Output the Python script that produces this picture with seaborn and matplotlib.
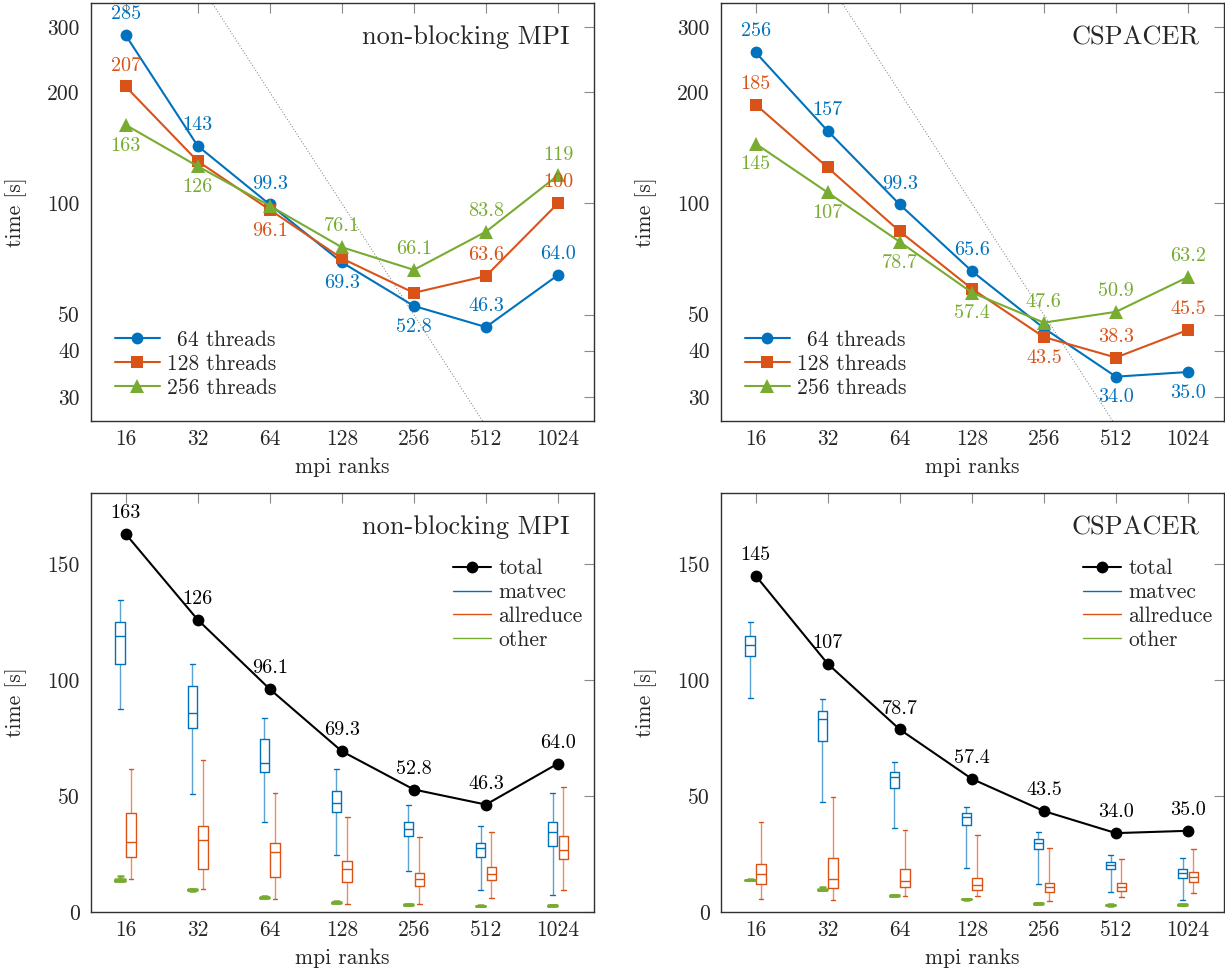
import numpy as np
import pandas as pd
import matplotlib
matplotlib.use("Agg")
import matplotlib.pyplot as plt
import seaborn as sns
from matplotlib.lines import Line2D
from matplotlib.ticker import FixedLocator, FixedFormatter, NullLocator

# ---------------------------------------------------------------- data
ranks = ["16", "32", "64", "128", "256", "512", "1024"]
thread_labels = ["64 threads", "128 threads", "256 threads"]

# top row: runtime per thread count (log axis)
nb_64 = [285, 143, 99.3, 69.3, 52.8, 46.3, 64.0]
nb_128 = [207, 130, 96.1, 71.0, 57.3, 63.6, 100]
nb_256 = [163, 126, 98.5, 76.1, 66.1, 83.8, 119]

cs_64 = [256, 157, 99.3, 65.6, 46.0, 34.0, 35.0]
cs_128 = [185, 125, 84.0, 58.8, 43.5, 38.3, 45.5]
cs_256 = [145, 107, 78.7, 57.4, 47.6, 50.9, 63.2]

# ideal scaling reference (dotted)
ideal = [800, 400, 200, 100, 50, 25, 12.5]

# bottom row: best total time
nb_total = [163, 126, 96.1, 69.3, 52.8, 46.3, 64.0]
cs_total = [145, 107, 78.7, 57.4, 43.5, 34.0, 35.0]

# box summaries per rank: [min, q1, median, q3, max]
nb_matvec = [[87.5, 106.7, 119.0, 125.1, 134.5], [51.0, 79.2, 85.6, 97.4, 106.9],
             [38.9, 60.2, 64.4, 74.7, 83.6], [24.4, 43.2, 47.1, 52.3, 61.8],
             [17.7, 32.9, 35.8, 38.7, 46.0], [9.5, 23.8, 27.4, 29.6, 37.2],
             [7.3, 28.4, 34.6, 38.7, 51.5]]
nb_allreduce = [[14.2, 23.6, 30.0, 42.5, 61.5], [9.8, 18.5, 30.9, 37.2, 65.5],
                [5.6, 15.1, 25.7, 29.6, 51.4], [3.3, 12.8, 18.4, 21.8, 40.8],
                [3.6, 11.2, 14.2, 16.8, 32.2], [6.2, 13.8, 16.2, 19.5, 34.3],
                [9.3, 22.7, 26.7, 32.9, 54.0]]
nb_other = [[13.2, 13.5, 13.8, 14.1, 15.6], [9.2, 9.4, 9.6, 9.8, 10.0],
            [5.9, 6.1, 6.3, 6.5, 6.7], [3.8, 4.0, 4.2, 4.4, 4.6],
            [2.9, 3.0, 3.2, 3.3, 3.5], [2.4, 2.6, 2.7, 2.8, 3.0],
            [2.6, 2.8, 2.9, 3.0, 3.2]]

cs_matvec = [[92.1, 110.3, 114.9, 118.8, 124.9], [47.5, 73.5, 83.0, 86.6, 91.9],
             [36.0, 53.4, 58.3, 60.5, 64.8], [18.8, 37.5, 40.8, 42.5, 45.3],
             [11.9, 27.2, 29.6, 31.3, 34.6], [8.8, 18.5, 20.3, 21.7, 24.6],
             [5.2, 14.5, 16.6, 18.5, 23.4]]
cs_allreduce = [[5.5, 12.1, 16.2, 20.8, 38.9], [5.0, 10.5, 14.1, 23.4, 49.7],
                [6.9, 10.9, 13.4, 18.4, 35.5], [6.9, 9.5, 11.6, 14.5, 33.2],
                [4.9, 8.5, 10.6, 12.6, 27.7], [6.3, 9.2, 10.9, 12.6, 22.7],
                [8.1, 13.1, 15.2, 17.4, 27.0]]
cs_other = [[13.6, 13.8, 13.9, 14.0, 14.2], [9.3, 9.5, 9.6, 9.8, 10.7],
            [6.9, 7.1, 7.2, 7.3, 7.5], [5.2, 5.4, 5.5, 5.6, 5.8],
            [3.4, 3.6, 3.7, 3.8, 4.0], [2.7, 2.9, 3.0, 3.1, 3.3],
            [2.9, 3.1, 3.2, 3.3, 3.5]]

# ---------------------------------------------------------------- style
sns.set_style("white")
plt.rcParams["font.family"] = ["cmr10", "DejaVu Serif"]
plt.rcParams["mathtext.fontset"] = "cm"
plt.rcParams["axes.unicode_minus"] = False
plt.rcParams["axes.formatter.use_mathtext"] = True

BLUE, ORANGE, GREEN = "#0072BD", "#D95319", "#77AC30"
thread_colors = [BLUE, ORANGE, GREEN]
thread_markers = ["o", "s", "^"]
pos = np.arange(len(ranks))

fig = plt.figure(figsize=(12.25, 9.77), dpi=100)
W, H = 1225, 977


def make_ax(x0, y_top, x1, y_bot):
    return fig.add_axes([x0 / W, (H - y_bot) / H, (x1 - x0) / W, (y_bot - y_top) / H])


def style_ax(ax):
    for s in ax.spines.values():
        s.set_color("#303030")
        s.set_linewidth(1.0)
    ax.tick_params(direction="in", length=7, width=0.8, color="#8a8a8a",
                   top=True, right=True, labelsize=15.5, pad=8)
    ax.tick_params(axis="x", pad=6)
    ax.set_xticks(pos)
    ax.set_xticklabels(ranks)
    ax.set_xlim(-0.48, 6.5)
    ax.set_xlabel("mpi ranks", fontsize=15.5)
    ax.set_ylabel("time [s]", fontsize=15.5)
    ax.xaxis.set_label_coords(0.5, -0.088)
    ax.yaxis.set_label_coords(-0.128, 0.5)


def fmt(v):
    return f"{v:.0f}" if v >= 100 else f"{v:.1f}"


def put_labels(ax, vals, places, color, size=14.5):
    for i, (v, p) in enumerate(zip(vals, places)):
        if p == "-":
            continue
        dy = 15 if p == "u" else -15
        ax.annotate(fmt(v), (i, v), xytext=(0, dy), textcoords="offset points",
                    ha="center", va="center", color=color, fontsize=size)


def top_panel(ax, series, places, title):
    sns.lineplot(x=pos, y=ideal, ax=ax, color="#777777", linestyle=(0, (1, 2)),
                 linewidth=0.7, legend=False)
    handles = []
    for vals, c, m, lab in zip(series, thread_colors, thread_markers, thread_labels):
        ms = 9.5 if m == "^" else (8 if m == "s" else 8.5)
        sns.lineplot(x=pos, y=vals, ax=ax, color=c, marker=m, markersize=ms,
                     markeredgewidth=0, linewidth=1.5, legend=False)
        handles.append(Line2D([], [], color=c, marker=m, markersize=ms,
                              markeredgewidth=0, linewidth=1.5))
    for vals, pl, c in zip(series, places, thread_colors):
        put_labels(ax, vals, pl, c)
    ax.set_yscale("log")
    ax.set_ylim(25.8, 348)
    ax.yaxis.set_major_locator(FixedLocator([30, 40, 50, 100, 200, 300]))
    ax.yaxis.set_major_formatter(FixedFormatter(["30", "40", "50", "100", "200", "300"]))
    ax.yaxis.set_minor_locator(NullLocator())
    style_ax(ax)
    labs = [r"$\enspace$" + thread_labels[0], thread_labels[1], thread_labels[2]]
    ax.legend(handles, labs, loc="lower left", bbox_to_anchor=(0.047, 0.056),
              frameon=False, fontsize=15.5, handlelength=2.1, handletextpad=0.35,
              labelspacing=0.2, borderpad=0, borderaxespad=0)
    ax.text(0.952, 0.918, title, transform=ax.transAxes, ha="right", va="center",
            fontsize=19)


def box_frame(summaries, part):
    rows = []
    for i, s in enumerate(summaries):
        for v in s:
            rows.append({"pos": i, "time": v, "part": part})
    return pd.DataFrame(rows)


def bottom_panel(ax, total, matvec, allreduce, other, title):
    df_main = pd.concat([box_frame(matvec, "matvec"), box_frame(allreduce, "allreduce")])
    sns.boxplot(data=df_main, x="pos", y="time", hue="part",
                hue_order=["matvec", "allreduce"],
                palette={"matvec": BLUE, "allreduce": ORANGE},
                native_scale=True, fill=False, width=0.3, gap=0.13, dodge=True,
                whis=(0, 100), linewidth=1.0, legend=False,
                whiskerprops={"alpha": 0.65}, ax=ax)
    df_other = box_frame(other, "other")
    sns.boxplot(data=df_other, x="pos", y="time", hue="part",
                hue_order=["other", "pad"],
                palette={"other": GREEN, "pad": GREEN},
                native_scale=True, fill=False, width=0.3, gap=0.13, dodge=True,
                whis=(0, 100), linewidth=1.8, legend=False, ax=ax)
    sns.lineplot(x=pos, y=total, ax=ax, color="black", marker="o", markersize=8.5,
                 markeredgewidth=0, linewidth=1.5, legend=False)
    put_labels(ax, total, "u" * len(total), "black", size=14.5)
    ax.set_ylim(0, 180.6)
    ax.set_yticks([0, 50, 100, 150])
    ax.set_yticklabels(["0", "50", "100", "150"])
    style_ax(ax)
    handles = [Line2D([], [], color="black", marker="o", markersize=8.5,
                      markeredgewidth=0, linewidth=1.5),
               Line2D([], [], color=BLUE, linewidth=1.0),
               Line2D([], [], color=ORANGE, linewidth=1.0),
               Line2D([], [], color=GREEN, linewidth=1.0)]
    ax.legend(handles, ["total", "matvec", "allreduce", "other"], loc="upper left",
              bbox_to_anchor=(0.72, 0.843), frameon=False, fontsize=15.5,
              handlelength=1.75, handletextpad=0.35, labelspacing=0.2,
              borderpad=0, borderaxespad=0)
    ax.text(0.952, 0.918, title, transform=ax.transAxes, ha="right", va="center",
            fontsize=19)


nb_places = ["uuudduu", "u-d--uu", "dd-uuuu"]
cs_places = ["uuuu-dd", "u---duu", "dddduuu"]

ax1 = make_ax(91, 3, 594, 421)
top_panel(ax1, [nb_64, nb_128, nb_256], nb_places, "non-blocking MPI")

ax2 = make_ax(721, 3, 1224, 421)
top_panel(ax2, [cs_64, cs_128, cs_256], cs_places, "CSPACER")

ax3 = make_ax(91, 493, 594, 912)
bottom_panel(ax3, nb_total, nb_matvec, nb_allreduce, nb_other, "non-blocking MPI")

ax4 = make_ax(721, 493, 1224, 912)
bottom_panel(ax4, cs_total, cs_matvec, cs_allreduce, cs_other, "CSPACER")

fig.savefig("out.png", dpi=100)
